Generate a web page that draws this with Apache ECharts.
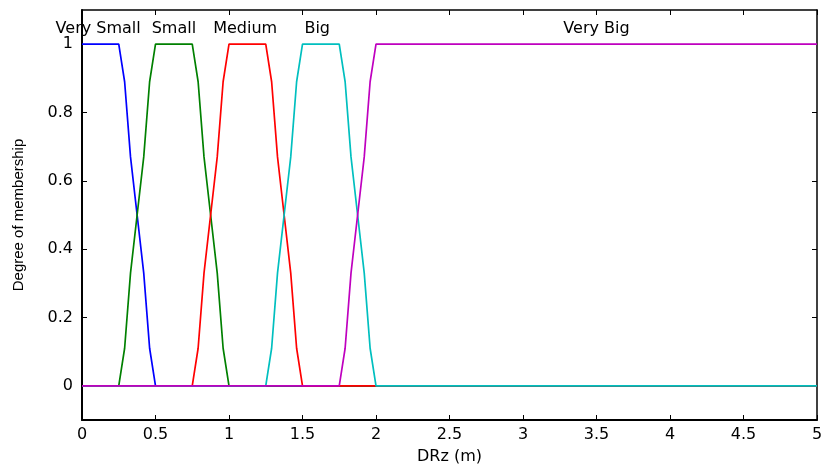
<!DOCTYPE html>
<html>
<head>
<meta charset="utf-8">
<script src="https://cdn.jsdelivr.net/npm/echarts@6/dist/echarts.min.js"></script>
<style>
  html, body { margin: 0; padding: 0; background: #fff; }
  #main { width: 827px; height: 471px; }
</style>
</head>
<body>
<div id="main"></div>
<script>
// membership functions
const vsX = [0, 0.25, 0.29, 0.33, 0.375, 0.42, 0.46, 0.5, 5]
const vsY = [1, 1, 0.89, 0.67, 0.5, 0.33, 0.11, 0, 0]

const smX = [0, 0.25, 0.29, 0.33, 0.375, 0.42, 0.46, 0.5, 0.75, 0.79, 0.83, 0.875, 0.92, 0.96, 1, 5]
const smY = [0, 0, 0.11, 0.33, 0.5, 0.67, 0.89, 1, 1, 0.89, 0.67, 0.5, 0.33, 0.11, 0, 0]

const mdX = [0, 0.75, 0.79, 0.83, 0.875, 0.92, 0.96, 1, 1.25, 1.29, 1.33, 1.375, 1.42, 1.46, 1.5, 5]
const mdY = [0, 0, 0.11, 0.33, 0.5, 0.67, 0.89, 1, 1, 0.89, 0.67, 0.5, 0.33, 0.11, 0, 0]

const bgX = [0, 1.25, 1.29, 1.33, 1.375, 1.42, 1.46, 1.5, 1.75, 1.79, 1.83, 1.875, 1.92, 1.96, 2, 5]
const bgY = [0, 0, 0.11, 0.33, 0.5, 0.67, 0.89, 1, 1, 0.89, 0.67, 0.5, 0.33, 0.11, 0, 0]

const vbX = [0, 1.75, 1.79, 1.83, 1.875, 1.92, 1.96, 2, 5]
const vbY = [0, 0, 0.11, 0.33, 0.5, 0.67, 0.89, 1, 1]

// text labels above each set
const labelNames = ['Very Small', 'Small', 'Medium', 'Big', 'Very Big']
const labelX = [0.11, 0.625, 1.11, 1.6, 3.5]
const labelY = [1.045, 1.045, 1.045, 1.045, 1.045]

const yTicks = [0, 0.2, 0.4, 0.6, 0.8, 1]

const FONT = 'DejaVu Sans'

function pairs(xs, ys) {
  return xs.map((x, i) => [x, ys[i]])
}

function mfLine(name, xs, ys, color) {
  return {
    name: name,
    type: 'line',
    showSymbol: false,
    lineStyle: { color: color, width: 1.7 },
    itemStyle: { color: color },
    data: pairs(xs, ys),
  }
}

const chart = echarts.init(document.getElementById('main'))

const option = {
  animation: false,
  textStyle: { fontFamily: FONT },
  grid: { left: 82, right: 10, top: 10, bottom: 51, containLabel: false },
  xAxis: [
    {
      type: 'value',
      min: 0,
      max: 5,
      interval: 0.5,
      name: 'DRz (m)',
      nameLocation: 'middle',
      nameGap: 29,
      nameTextStyle: { color: '#000', fontSize: 16, fontFamily: FONT },
      axisLine: { show: true, onZero: false, lineStyle: { color: '#000', width: 2 } },
      axisTick: { show: true, inside: true, length: 5, lineStyle: { color: '#000' } },
      axisLabel: { color: '#000', fontSize: 16, margin: 7, fontFamily: FONT },
      splitLine: { show: false },
    },
    {
      type: 'value',
      position: 'top',
      min: 0,
      max: 5,
      interval: 0.5,
      axisLine: { show: true, onZero: false, lineStyle: { color: '#000', width: 1.5 } },
      axisTick: { show: true, inside: true, length: 5, lineStyle: { color: '#000' } },
      axisLabel: { show: false },
      splitLine: { show: false },
    },
  ],
  yAxis: [
    {
      type: 'value',
      min: -0.1,
      max: 1.1,
      name: 'Degree of membership',
      nameLocation: 'middle',
      nameGap: 56,
      nameTextStyle: { color: '#000', fontSize: 15, fontFamily: 'Liberation Sans Narrow, Liberation Sans' },
      axisLine: { show: true, onZero: false, lineStyle: { color: '#000', width: 2 } },
      axisTick: { show: true, inside: true, length: 5, customValues: yTicks, lineStyle: { color: '#000' } },
      axisLabel: { color: '#000', fontSize: 16, margin: 9, customValues: yTicks, fontFamily: FONT },
      splitLine: { show: false },
    },
    {
      type: 'value',
      position: 'right',
      min: -0.1,
      max: 1.1,
      axisLine: { show: true, onZero: false, lineStyle: { color: '#000', width: 1.5 } },
      axisTick: { show: true, inside: true, length: 5, customValues: yTicks, lineStyle: { color: '#000' } },
      axisLabel: { show: false },
      splitLine: { show: false },
    },
  ],
  series: [
    mfLine('Very Small', vsX, vsY, '#0000ff'),
    mfLine('Small', smX, smY, '#008000'),
    mfLine('Medium', mdX, mdY, '#ff0000'),
    mfLine('Big', bgX, bgY, '#00bfbf'),
    mfLine('Very Big', vbX, vbY, '#bf00bf'),
    {
      type: 'scatter',
      symbolSize: 0,
      silent: true,
      itemStyle: { opacity: 1 },
      label: {
        show: true,
        position: 'inside',
        color: '#000',
        opacity: 1,
        fontSize: 16,
        fontFamily: FONT,
        formatter: (p) => p.name,
      },
      data: labelNames.map((n, i) => ({ name: n, value: [labelX[i], labelY[i]] })),
    },
  ],
}

chart.setOption(option)
</script>
</body>
</html>
